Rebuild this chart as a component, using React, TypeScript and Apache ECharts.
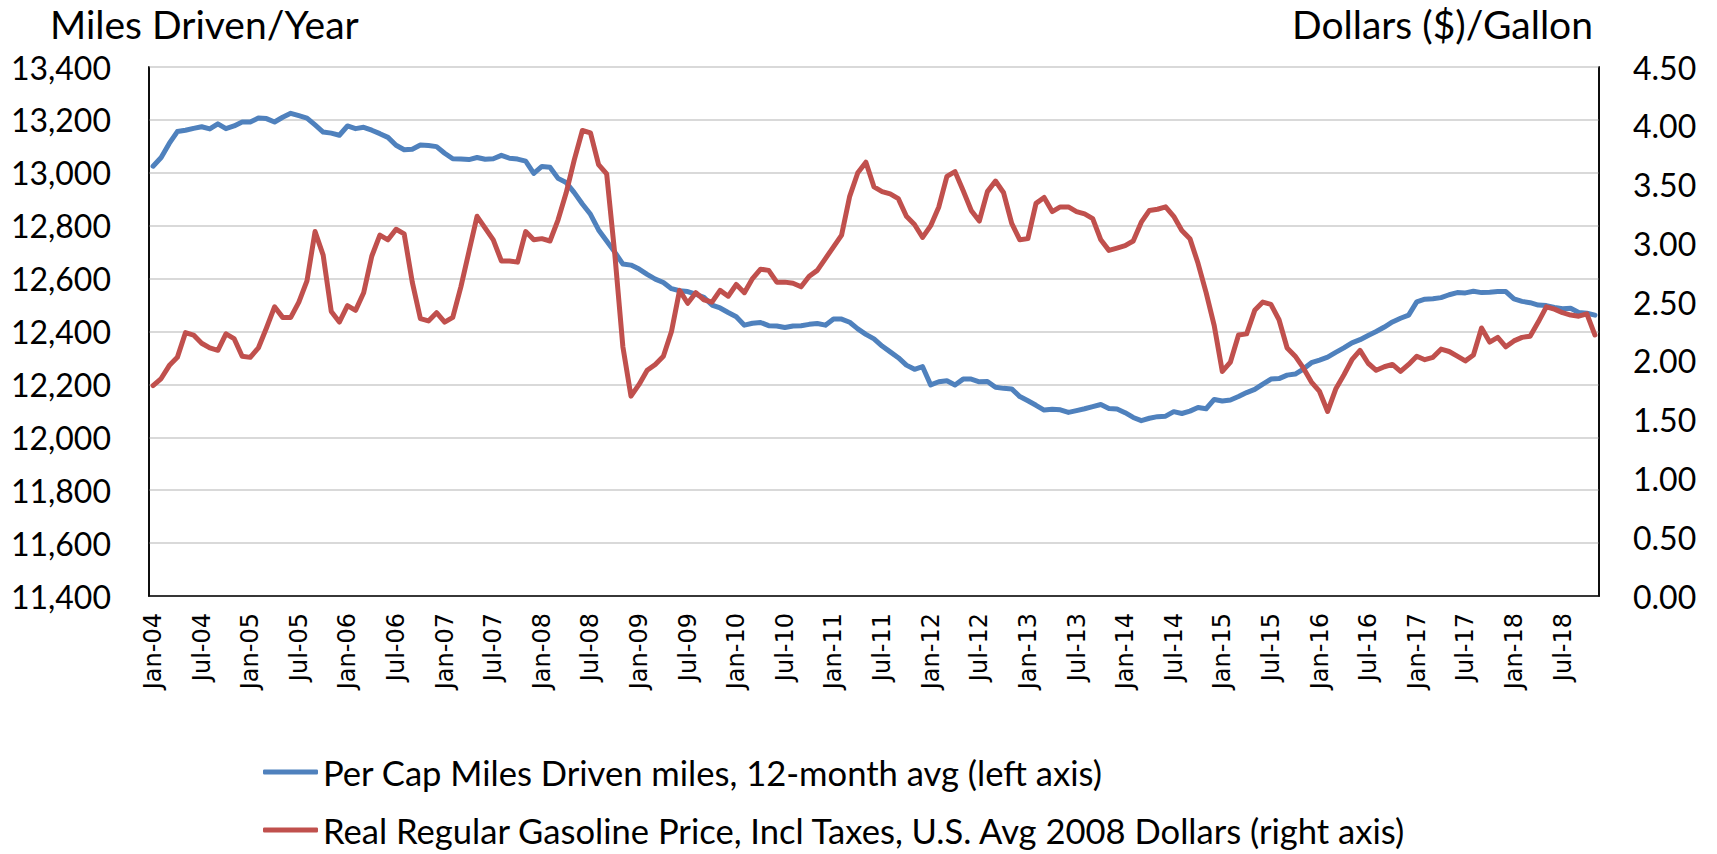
import React, { useEffect, useRef } from "react";
import * as echarts from "echarts";

const MONTHS = ["Jan", "Feb", "Mar", "Apr", "May", "Jun", "Jul", "Aug", "Sep", "Oct", "Nov", "Dec"];
const YEARS = ["04", "05", "06", "07", "08", "09", "10", "11", "12", "13", "14", "15", "16", "17", "18"];
const N_MONTHS = 179; // Jan-04 .. Nov-18

const categories: string[] = [];
for (const y of YEARS) for (const m of MONTHS) categories.push(`${m}-${y}`);
categories.length = N_MONTHS;

const SERIES_MILES = "Per Cap Miles Driven miles, 12-month avg (left axis)";
const SERIES_GAS = "Real Regular Gasoline Price, Incl Taxes, U.S. Avg 2008 Dollars (right axis)";

const milesDriven = [
  13025, 13058, 13111, 13156, 13161, 13168, 13174, 13166, 13185, 13167, 13177, 13192,
  13192, 13207, 13205, 13192, 13210, 13225, 13216, 13207, 13181, 13154, 13150, 13142,
  13177, 13167, 13172, 13161, 13148, 13134, 13104, 13087, 13089, 13105, 13103, 13099,
  13074, 13053, 13052, 13050, 13058, 13051, 13053, 13066, 13055, 13052, 13044, 12998,
  13024, 13021, 12979, 12963, 12925, 12882, 12843, 12784, 12742, 12700, 12655, 12651,
  12636, 12616, 12598, 12585, 12562, 12554, 12551, 12541, 12529, 12500, 12489, 12472,
  12456, 12424, 12431, 12434, 12422, 12421, 12415, 12421, 12422, 12427, 12430, 12424,
  12447, 12447, 12435, 12410, 12389, 12372, 12345, 12323, 12301, 12273, 12257, 12267,
  12198, 12210, 12214, 12198, 12220, 12220, 12210, 12211, 12189, 12185, 12183, 12154,
  12138, 12121, 12103, 12106, 12104, 12094, 12101, 12108, 12116, 12124, 12109, 12107,
  12093, 12075, 12063, 12072, 12078, 12080, 12097, 12090, 12099, 12113, 12108, 12143,
  12137, 12141, 12154, 12169, 12181, 12201, 12220, 12222, 12235, 12239, 12258, 12282,
  12292, 12303, 12321, 12338, 12357, 12369, 12385, 12400, 12417, 12436, 12450, 12462,
  12512, 12522, 12524, 12528, 12539, 12547, 12546, 12552, 12547, 12548, 12551, 12551,
  12523, 12514, 12509, 12500, 12498, 12491, 12486, 12488, 12472, 12469, 12462,
];

const gasPrice = [
  1.79, 1.85, 1.96, 2.03, 2.24, 2.22, 2.15, 2.11, 2.09, 2.23, 2.19, 2.04,
  2.03, 2.11, 2.28, 2.46, 2.37, 2.37, 2.5, 2.68, 3.1, 2.9, 2.42, 2.33,
  2.47, 2.43, 2.58, 2.89, 3.07, 3.03, 3.12, 3.08, 2.67, 2.36, 2.34, 2.41,
  2.33, 2.37, 2.63, 2.93, 3.23, 3.13, 3.03, 2.85, 2.85, 2.84, 3.1, 3.03,
  3.04, 3.02, 3.2, 3.43, 3.71, 3.96, 3.94, 3.67, 3.59, 2.91, 2.12, 1.7,
  1.8, 1.92, 1.97, 2.04, 2.25, 2.6, 2.49, 2.58, 2.52, 2.5, 2.6, 2.55,
  2.65, 2.58, 2.7, 2.78, 2.77, 2.67, 2.67, 2.66, 2.63, 2.72, 2.77, 2.87,
  2.97, 3.07, 3.4, 3.6, 3.69, 3.48, 3.44, 3.42, 3.38, 3.23, 3.16, 3.05,
  3.15, 3.31, 3.57, 3.61, 3.45, 3.28, 3.19, 3.44, 3.53, 3.43, 3.17, 3.03,
  3.04, 3.34, 3.39, 3.27, 3.31, 3.31, 3.27, 3.25, 3.21, 3.03, 2.94, 2.96,
  2.98, 3.02, 3.18, 3.28, 3.29, 3.31, 3.23, 3.11, 3.04, 2.83, 2.58, 2.3,
  1.91, 1.99, 2.22, 2.23, 2.43, 2.5, 2.48, 2.35, 2.11, 2.04, 1.94, 1.82,
  1.74, 1.57, 1.76, 1.88, 2.01, 2.09, 1.98, 1.92, 1.95, 1.97, 1.91, 1.97,
  2.04, 2.01, 2.03, 2.1, 2.08, 2.04, 2.0, 2.05, 2.28, 2.16, 2.2, 2.12,
  2.17, 2.2, 2.21, 2.33, 2.46, 2.44, 2.41, 2.39, 2.38, 2.4, 2.22,
];

const LEFT_TITLE = "Miles Driven/Year";
const RIGHT_TITLE = "Dollars ($)/Gallon";

const BLUE = "#4f81bd";
const RED = "#c0504d";
const FONT = "Lato, 'Open Sans', sans-serif";

export default function App() {
  const ref = useRef<HTMLDivElement>(null);

  useEffect(() => {
    if (!ref.current) return;
    const chart = echarts.init(ref.current, undefined, { renderer: "svg" });
    const legendText = { fontFamily: FONT, fontSize: 34.6, color: "#000", lineHeight: 40 };
    const legendBase = {
      left: 263,
      padding: 0,
      icon: "roundRect",
      itemWidth: 55,
      itemHeight: 5,
      itemGap: 0,
      textStyle: legendText,
      selectedMode: false,
    };
    chart.setOption({
      animation: false,
      backgroundColor: "#fff",
      grid: {
        left: 149,
        top: 67,
        width: 1450,
        height: 529,
        show: true,
        borderColor: "#000",
        borderWidth: 1.5,
        backgroundColor: "transparent",
      },
      xAxis: {
        type: "category",
        data: categories,
        boundaryGap: true,
        axisLine: { show: true, lineStyle: { color: "#000", width: 1.5 } },
        axisTick: { show: false },
        splitLine: { show: false },
        axisLabel: {
          interval: 5,
          rotate: 90,
          margin: 17,
          color: "#000",
          fontFamily: "'DejaVu Sans', sans-serif",
          fontSize: 24,
        },
      },
      yAxis: [
        {
          type: "value",
          min: 11400,
          max: 13400,
          interval: 200,
          position: "left",
          axisLine: { show: true, lineStyle: { color: "#000", width: 1.5 } },
          axisTick: { show: false },
          splitLine: { show: true, lineStyle: { color: "#d9d9d9", width: 2 } },
          axisLabel: {
            margin: 38,
            color: "#000",
            fontFamily: FONT,
            fontSize: 32,
            formatter: (v: number) => v.toLocaleString("en-US"),
          },
        },
        {
          type: "value",
          min: 0,
          max: 4.5,
          interval: 0.5,
          position: "right",
          axisLine: { show: true, lineStyle: { color: "#000", width: 1.5 } },
          axisTick: { show: false },
          splitLine: { show: false },
          axisLabel: {
            margin: 34,
            color: "#000",
            fontFamily: FONT,
            fontSize: 32,
            formatter: (v: number) => v.toFixed(2),
          },
        },
      ],
      legend: [
        { ...legendBase, data: [SERIES_MILES], top: 752 },
        { ...legendBase, data: [SERIES_GAS], top: 810 },
      ],
      graphic: [
        {
          type: "text",
          left: 50,
          top: 4,
          style: { text: LEFT_TITLE, fontFamily: FONT, fontSize: 39, fill: "#000" },
        },
        {
          type: "text",
          right: 124,
          top: 4,
          style: { text: RIGHT_TITLE, fontFamily: FONT, fontSize: 39, fill: "#000" },
        },
      ],
      series: [
        {
          name: SERIES_MILES,
          type: "line",
          yAxisIndex: 0,
          data: milesDriven,
          symbol: "none",
          color: BLUE,
          lineStyle: { color: BLUE, width: 5, cap: "round", join: "round" },
        },
        {
          name: SERIES_GAS,
          type: "line",
          yAxisIndex: 1,
          data: gasPrice,
          symbol: "none",
          color: RED,
          lineStyle: { color: RED, width: 5, cap: "round", join: "round" },
        },
      ],
    });
    return () => chart.dispose();
  }, []);

  return (
    <div
      ref={ref}
      style={{ position: "fixed", left: 0, top: 0, width: 1717, height: 854, background: "#fff" }}
    />
  );
}
